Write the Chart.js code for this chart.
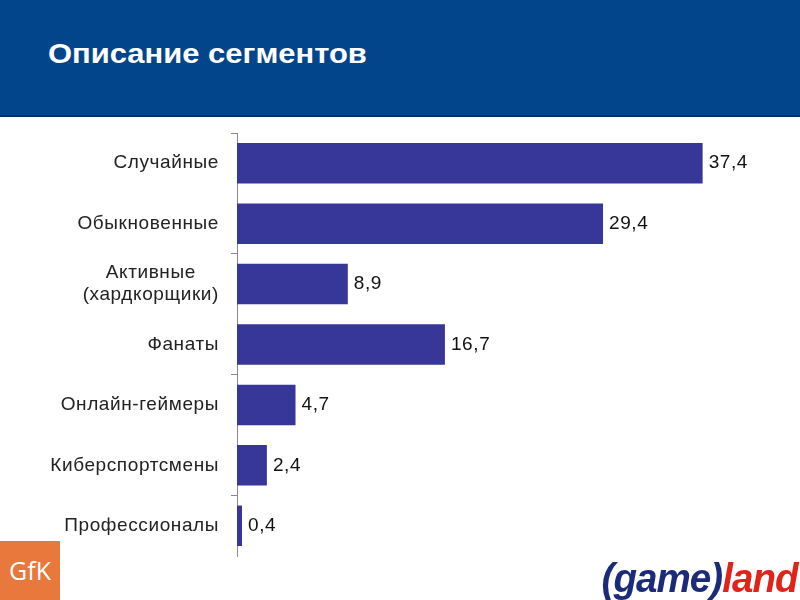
<!DOCTYPE html>
<html>
<head>
<meta charset="utf-8">
<script src="https://cdn.jsdelivr.net/npm/chart.js@4"></script>
<style>
  html, body { margin: 0; padding: 0; background: #fff; }
  #wrap { position: relative; width: 800px; height: 600px; overflow: hidden; font-family: "Liberation Sans", Arial, sans-serif; }
  #header { position: absolute; left: 0; top: 0; width: 800px; height: 115px; background: #03458b; border-bottom: 2px solid #0b3060; }
  #title { position: absolute; left: 48px; top: 38px; color: #fff; font-size: 28px; font-weight: bold; transform: scaleX(1.105); transform-origin: left; white-space: nowrap; }
  #gfk { position: absolute; left: 0; top: 541px; width: 60px; height: 59px; background: #e8783c; color: #fff; font-size: 25px; line-height: 59px; text-align: center; font-family: "Open Sans", "Liberation Sans", sans-serif; }
  #gameland { position: absolute; right: 2px; top: 555px; font-size: 41px; font-weight: bold; font-style: italic; font-family: "Liberation Sans Narrow", "Liberation Sans", sans-serif; letter-spacing: -1px; transform: scaleX(0.94); transform-origin: right; }
  #gameland .g { color: #1c2a7a; }
  #gameland .l { color: #e2231a; }
  canvas { position: absolute; left: 0; top: 0; }
</style>
</head>
<body>
<div id="wrap">
  <canvas id="c" width="800" height="600"></canvas>
  <div id="header"><div id="title">Описание сегментов</div></div>
  <div id="gfk">GfK</div>
  <div id="gameland"><span class="g">(game)</span><span class="l">land</span></div>
</div>
<script>
const categories = [
  ['Случайные'],
  ['Обыкновенные'],
  ['Активные', '(хардкорщики)'],
  ['Фанаты'],
  ['Онлайн-геймеры'],
  ['Киберспортсмены'],
  ['Профессионалы']
];
const values = [37.4, 29.4, 8.9, 16.7, 4.7, 2.4, 0.4];
const valueLabels = ['37,4', '29,4', '8,9', '16,7', '4,7', '2,4', '0,4'];

const labelPlugin = {
  id: 'labels',
  afterDatasetsDraw(chart) {
    const ctx = chart.ctx;
    const meta = chart.getDatasetMeta(0);
    const yScale = chart.scales.y;
    ctx.save();
    ctx.font = '19px "Liberation Sans", Arial, sans-serif';
    ctx.letterSpacing = '0.6px';
    ctx.fillStyle = '#111';
    ctx.textBaseline = 'middle';
    meta.data.forEach((bar, i) => {
      ctx.textAlign = 'left';
      ctx.fillText(valueLabels[i], bar.x + 6, bar.y);
    });
    ctx.fillStyle = '#222';
    categories.forEach((lines, i) => {
      const yc = yScale.getPixelForValue(i);
      const widths = lines.map(l => ctx.measureText(l).width);
      const w = Math.max(...widths);
      const right = 219;
      const lh = 22;
      const y0 = yc - (lines.length - 1) * lh / 2;
      lines.forEach((l, j) => {
        ctx.textAlign = 'center';
        ctx.fillText(l, right - w / 2, y0 + j * lh);
      });
    });
    ctx.restore();
  }
};

new Chart(document.getElementById('c'), {
  type: 'bar',
  data: {
    labels: categories.map(c => c.join(' ')),
    datasets: [{
      data: values,
      backgroundColor: '#37379a',
      borderWidth: 0,
      barPercentage: 0.67,
      categoryPercentage: 1.0
    }]
  },
  options: {
    indexAxis: 'y',
    responsive: false,
    animation: false,
    devicePixelRatio: 1,
    layout: { padding: { top: 133, left: 0, right: 65, bottom: 44 } },
    plugins: { legend: { display: false }, tooltip: { enabled: false } },
    scales: {
      x: { display: false, min: 0, max: 40 },
      y: {
        afterFit(scale) { scale.width = 237; },
        border: { display: true, color: '#8a8a8a', width: 1 },
        grid: {
          offset: true,
          drawOnChartArea: false,
          drawTicks: true,
          tickLength: 6,
          color: (ctx) => (ctx.index % 2 === 0 ? '#8a8a8a' : 'rgba(0,0,0,0)')
        },
        ticks: { display: false }
      }
    }
  },
  plugins: [labelPlugin]
});
</script>
</body>
</html>
